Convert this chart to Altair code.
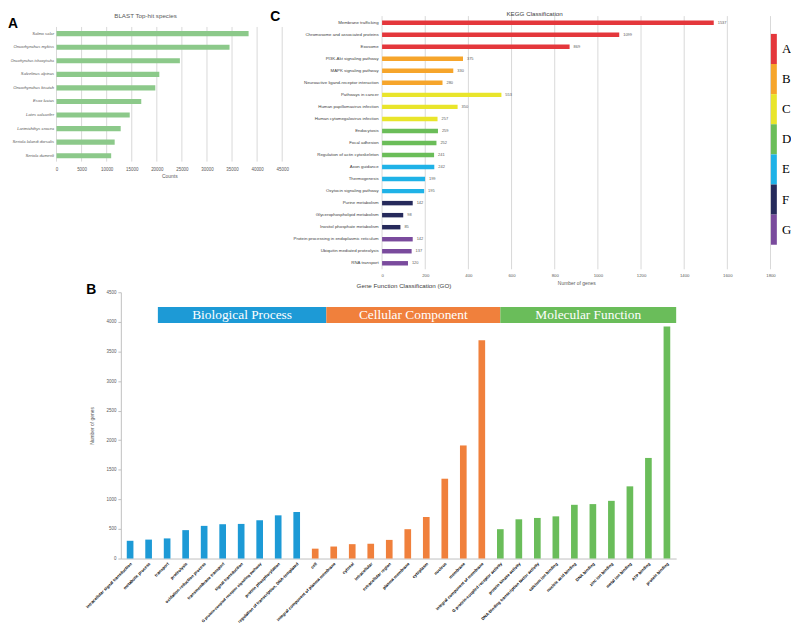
import altair as alt
import pandas as pd

W, H = 791, 619
OX, OY = 8, 8
SHIFT_B = 6  # panel B is lifted a little so its rotated labels fit the page


def px(v):
    return v - OX


def py(v):
    return v - OY


def pyb(v):
    return v - OY - SHIFT_B


LABEL_GRAY = "#595959"
GRID = "#d9d9d9"
SANS = "Liberation Sans"
SERIF = "Liberation Serif"

# ---------------- Panel A data ----------------
species = ["Salmo salar", "Oncorhynchus mykiss", "Oncorhynchus tshawytscha",
           "Salvelinus alpinus", "Oncorhynchus kisutch", "Esox lucius",
           "Lates calcarifer", "Larimichthys crocea", "Seriola lalandi dorsalis",
           "Seriola dumerili"]
species_counts = [38300, 34500, 24600, 20500, 19700, 16900, 14600, 12800, 11600, 10900]
count_ticks = [0, 5000, 10000, 15000, 20000, 25000, 30000, 35000, 40000, 45000]

# ---------------- Panel C data ----------------
kegg_pathways = ["Membrane trafficking", "Chromosome and associated proteins", "Exosome",
                 "PI3K-Akt signaling pathway", "MAPK signaling pathway",
                 "Neuroactive ligand-receptor interaction", "Pathways in cancer",
                 "Human papillomavirus infection", "Human cytomegalovirus infection",
                 "Endocytosis", "Focal adhesion", "Regulation of actin cytoskeleton",
                 "Axon guidance", "Thermogenesis", "Oxytocin signaling pathway",
                 "Purine metabolism", "Glycerophospholipid metabolism",
                 "Inositol phosphate metabolism", "Protein processing in endoplasmic reticulum",
                 "Ubiquitin mediated proteolysis", "RNA transport"]
kegg_genes = [1537, 1099, 869, 375, 330, 280, 553, 350, 257, 259, 252, 241,
              242, 199, 195, 142, 98, 85, 142, 137, 120]
kegg_groups = ["A", "A", "A", "B", "B", "B", "C", "C", "C", "D", "D", "D",
               "E", "E", "E", "F", "F", "F", "G", "G", "G"]
kegg_ticks = [0, 200, 400, 600, 800, 1000, 1200, 1400, 1600, 1800]
group_letters = ["A", "B", "C", "D", "E", "F", "G"]
group_colors = ["#e4373c", "#f6a52b", "#e9e52b", "#6bbd59", "#1fb2e7", "#262a5b", "#7a4b9d"]

# ---------------- Panel B data ----------------
go_terms = ["intracellular signal transduction", "metabolic process", "transport",
            "proteolysis", "oxidation-reduction process", "transmembrane transport",
            "signal transduction", "G protein-coupled receptor signaling pathway",
            "protein phosphorylation", "regulation of transcription, DNA-templated",
            "cell", "integral component of plasma membrane", "cytosol", "intracellular",
            "extracellular region", "plasma membrane", "cytoplasm", "nucleus", "membrane",
            "integral component of membrane",
            "G protein-coupled receptor activity", "protein kinase activity",
            "DNA-binding transcription factor activity", "calcium ion binding",
            "nucleic acid binding", "DNA binding", "zinc ion binding", "metal ion binding",
            "ATP binding", "protein binding"]
go_genes = [300, 320, 340, 480, 552, 580, 585, 647, 730, 786,
            167, 203, 243, 250, 315, 496, 702, 1349, 1911, 3690,
            496, 663, 686, 713, 908, 920, 975, 1220, 1700, 3920]
go_categories = (["Biological Process"] * 10 + ["Cellular Component"] * 10
                 + ["Molecular Function"] * 10)
go_ticks = [0, 500, 1000, 1500, 2000, 2500, 3000, 3500, 4000, 4500]
go_headers = ["Biological Process", "Cellular Component", "Molecular Function"]
go_colors = ["#1d9ad6", "#f0803c", "#6abd5a"]
header_start = [2.0, 11.1, 20.5]
header_end = [11.1, 20.5, 30.0]
header_low = [3980, 3980, 3980]
header_high = [4250, 4250, 4250]

# ================= Panel A =================
dfA = pd.DataFrame({"species": species, "counts": species_counts})
xA = alt.Scale(domain=[0, 45000], range=[px(57), px(285)], nice=False, zero=False)
yA = alt.Scale(domain=species, range=[py(23.9), py(160.9)], paddingInner=0.62, paddingOuter=0.31)
axisXA = alt.Axis(orient="bottom", offset=py(160.9) - H, values=count_ticks, grid=False,
                  domain=False, ticks=False, labelFontSize=4.5, labelColor=LABEL_GRAY,
                  labelFont=SANS, labelPadding=4, labelFlush=False, labelOverlap=False,
                  format="d", title="Counts", titleFontSize=5, titleFontWeight="normal",
                  titleColor=LABEL_GRAY, titleFont=SANS, titlePadding=3)
gridA = alt.Chart(pd.DataFrame({"counts": count_ticks})).mark_rule(color=GRID, strokeWidth=1).encode(
    x=alt.X("counts:Q", scale=xA, axis=axisXA),
    y=alt.value(py(24)), y2=alt.value(py(160)))
barsA = alt.Chart(dfA).mark_bar(color="#8cc98a").encode(
    x=alt.X("counts:Q", scale=xA, axis=axisXA),
    y=alt.Y("species:N", sort=species, scale=yA,
            axis=alt.Axis(orient="left", offset=-px(57), grid=False, domain=False, ticks=False,
                          labelFontSize={"condition": {"test": "datum.value === 'Oncorhynchus tshawytscha'",
                                                       "value": 3.6}, "value": 4.2},
                          labelFontStyle="italic", labelColor=LABEL_GRAY,
                          labelFont=SANS, labelPadding=3, title=None)))
panelA = alt.layer(gridA, barsA)

# ================= Panel C =================
dfC = pd.DataFrame({"pathway": kegg_pathways, "genes": kegg_genes, "group": kegg_groups})
xC = alt.Scale(domain=[0, 1800], range=[px(385.9), px(778.3)], nice=False, zero=False)
yC = alt.Scale(domain=kegg_pathways, range=[py(13.6), py(268.8)], paddingInner=0.63, paddingOuter=0.315)
colorC = alt.Scale(domain=group_letters, range=group_colors)
axisXC = alt.Axis(orient="bottom", offset=py(268.8) - H, values=kegg_ticks, grid=False,
                  domain=False, ticks=False, labelFontSize=4.3, labelColor=LABEL_GRAY,
                  labelFont=SANS, labelPadding=4, labelFlush=False, labelOverlap=False,
                  format="d", title="Number of genes", titleFontSize=5, titleFontWeight="normal",
                  titleColor=LABEL_GRAY, titleFont=SANS, titlePadding=3)
gridC = alt.Chart(pd.DataFrame({"genes": kegg_ticks})).mark_rule(color=GRID, strokeWidth=1).encode(
    x=alt.X("genes:Q", scale=xC, axis=axisXC),
    y=alt.value(py(13)), y2=alt.value(py(268.8)))
barsC = alt.Chart(dfC).mark_bar().encode(
    x=alt.X("genes:Q", scale=xC, axis=axisXC),
    y=alt.Y("pathway:N", sort=kegg_pathways, scale=yC,
            axis=alt.Axis(orient="left", offset=-px(385.9), grid=False, domain=False, ticks=False,
                          labelFontSize=4.4, labelColor="#404040", labelFont=SANS,
                          labelPadding=4, title=None)),
    color=alt.Color("group:N", scale=colorC, legend=None))
textC = alt.Chart(dfC).mark_text(align="left", baseline="middle", dx=4, fontSize=4,
                                 color=LABEL_GRAY, font=SANS).encode(
    x=alt.X("genes:Q", scale=xC, axis=axisXC), y=alt.Y("pathway:N", sort=kegg_pathways, scale=yC),
    text="genes:Q")
panelC = alt.layer(gridC, barsC, textC)

# ---- colour key of panel C ----
dfLeg = pd.DataFrame({"group": group_letters})
yLeg = alt.Scale(domain=group_letters, range=[py(31), py(244)], paddingInner=0, paddingOuter=0)
legRect = alt.Chart(dfLeg).mark_rect().encode(
    y=alt.Y("group:N", scale=yLeg, axis=None),
    x=alt.value(px(778.7)), x2=alt.value(px(784.7)),
    color=alt.Color("group:N", scale=colorC, legend=None))
legText = alt.Chart(dfLeg).mark_text(align="left", baseline="middle", font=SERIF,
                                     fontSize=13, color="black").encode(
    y=alt.Y("group:N", scale=yLeg, axis=None), x=alt.value(px(790)), text="group:N")
legend = alt.layer(legRect, legText)

# ================= Panel B =================
dfB = pd.DataFrame({"term": go_terms, "genes": go_genes, "category": go_categories})
xB = alt.Scale(domain=go_terms, range=[px(122), px(683)], paddingInner=0.64, paddingOuter=0.32)
yB = alt.Scale(domain=[0, 4500], range=[pyb(567), pyb(298)], nice=False, zero=False)
colorB = alt.Scale(domain=go_headers, range=go_colors)
long_label_test = "length(datum.value) > 43"
barsB = alt.Chart(dfB).mark_bar().encode(
    x=alt.X("term:N", sort=go_terms, scale=xB,
            axis=alt.Axis(orient="bottom", offset=pyb(567) - H, labelAngle=-45,
                          labelFontSize={"condition": {"test": long_label_test, "value": 3.85},
                                         "value": 4.2},
                          labelFontWeight="bold", labelColor="black", labelFont=SANS,
                          labelPadding=3, ticks=False, domainColor="#bfbfbf", grid=False,
                          title=None, labelLimit=200)),
    y=alt.Y("genes:Q", scale=yB,
            axis=alt.Axis(orient="left", offset=-px(122), values=go_ticks, grid=False,
                          domainColor="#bfbfbf", tickColor="#bfbfbf", tickSize=3, format="d",
                          labelFontSize=4.5, labelColor=LABEL_GRAY, labelFont=SANS,
                          labelPadding=2, labelFlush=False, labelOverlap=False,
                          title="Number of genes", titleFontSize=5, titleFontWeight="normal",
                          titleColor=LABEL_GRAY, titleFont=SANS, titlePadding=12)),
    color=alt.Color("category:N", scale=colorB, legend=None))
panelB = barsB

# ---- category headers of panel B ----
dfH = pd.DataFrame({"category": go_headers, "start": header_start, "end": header_end,
                    "low": header_low, "high": header_high})
xH = alt.Scale(domain=[0, 30], range=[px(122), px(683)], nice=False, zero=False)
yH = alt.Scale(domain=[0, 4500], range=[pyb(567), pyb(298)], nice=False, zero=False)
headRect = alt.Chart(dfH).mark_rect().encode(
    x=alt.X("start:Q", scale=xH, axis=None), x2="end:Q",
    y=alt.Y("low:Q", scale=yH, axis=None), y2="high:Q",
    color=alt.Color("category:N", scale=colorB, legend=None))
headText = alt.Chart(dfH).transform_calculate(
    mid="(datum.start + datum.end) / 2", ymid="(datum.low + datum.high) / 2"
).mark_text(align="center", baseline="middle", font=SERIF, fontSize=13.5, color="white").encode(
    x=alt.X("mid:Q", scale=xH, axis=None), y=alt.Y("ymid:Q", scale=yH, axis=None),
    text="category:N")
headers = alt.layer(headRect, headText)


# ================= annotations =================
def text_chart(label, x, y, size, weight="normal", font=SANS, align="left",
               baseline="alphabetic", color="black"):
    return alt.Chart(pd.DataFrame({"label": [label]})).mark_text(
        align=align, baseline=baseline, fontSize=size, fontWeight=weight, font=font, color=color
    ).encode(x=alt.value(px(x)), y=alt.value(py(y)), text="label:N")


panel_titles = ["BLAST Top-hit species", "KEGG Classification", "Gene Function Classification (GO)"]
panel_letters = ["A", "B", "C"]
annotations = [
    text_chart(panel_titles[0], 147, 13, 6.3, align="center", baseline="middle", color=LABEL_GRAY),
    text_chart(panel_titles[1], 540, 11, 6.3, align="center", baseline="middle", color="#404040"),
    text_chart(panel_titles[2], 408, 286, 6.3, align="center", baseline="middle", color="#404040"),
    text_chart(panel_letters[0], 8, 25, 14, weight="bold"),
    text_chart(panel_letters[1], 87, 300 - SHIFT_B, 14, weight="bold"),
    text_chart(panel_letters[2], 273, 18, 14, weight="bold"),
]

chart = alt.layer(panelA, panelC, legend, panelB, headers, *annotations).resolve_scale(
    x="independent", y="independent", color="independent"
).properties(
    width=W, height=H, autosize=alt.AutoSizeParams(type="none"), padding=0
).configure_view(stroke=None)

chart.save("out.html", embed_options={"renderer": "svg", "actions": False})
